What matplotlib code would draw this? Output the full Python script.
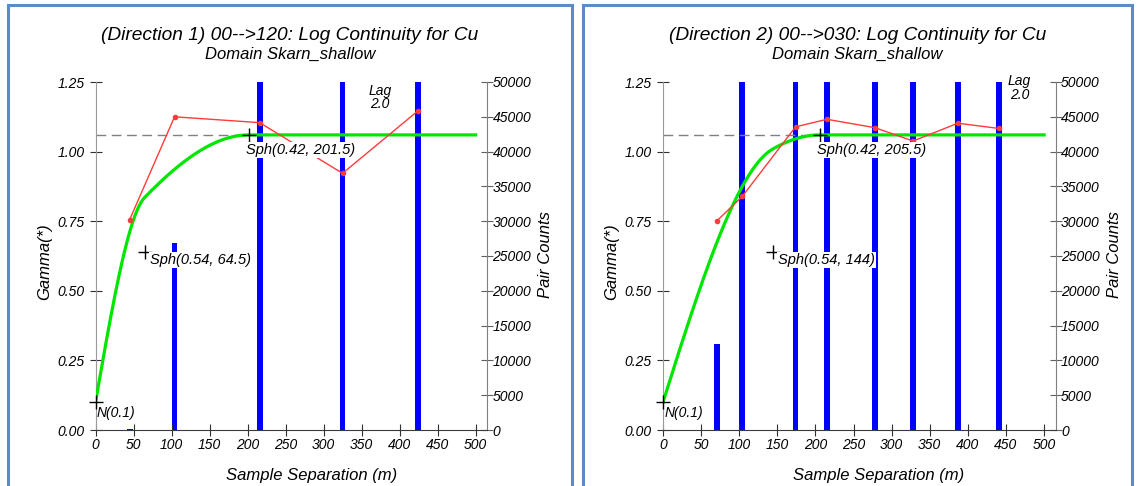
import matplotlib.pyplot as plt
from matplotlib.patches import Rectangle
import numpy as np

plt.rcParams['font.family'] = ['Liberation Sans', 'DejaVu Sans']
plt.rcParams['font.style'] = 'italic'

W, H = 1140, 486

# Direction 1 experimental variogram
d1_title = '(Direction 1) 00-->120: Log Continuity for Cu'
d1_lag = [45, 104, 216, 325, 424]
d1_gamma = [0.756, 1.125, 1.104, 0.922, 1.146]
d1_pairs = [150, 26800, 68000, 64000, 70000]
d1_nugget = 0.1
d1_sill = [0.54, 0.42]
d1_range = [64.5, 201.5]

# Direction 2 experimental variogram
d2_title = '(Direction 2) 00-->030: Log Continuity for Cu'
d2_lag = [71, 104, 174, 215, 278, 328, 387, 441]
d2_gamma = [0.752, 0.839, 1.089, 1.116, 1.086, 1.038, 1.102, 1.083]
d2_pairs = [12300, 66000, 70000, 72000, 68000, 65000, 69000, 67000]
d2_nugget = 0.1
d2_sill = [0.54, 0.42]
d2_range = [144, 205.5]

subtitle = 'Domain Skarn_shallow'
x_ticks = list(range(0, 501, 50))
gamma_ticks = [0.0, 0.25, 0.5, 0.75, 1.0, 1.25]
pair_ticks = list(range(0, 50001, 5000))


def px(x, y):
    return x / W, 1 - y / H


def sph(h, c, a):
    r = np.minimum(h / a, 1.0)
    return c * (1.5 * r - 0.5 * r ** 3)


fig = plt.figure(figsize=(W / 100, H / 100), dpi=100)


def panel(left, right, frame, title, lag, gamma, pairs, nugget, sills, ranges,
          lag_xy):
    x0, y0 = px(left, 430)
    x1, y1 = px(right, 82)
    ax = fig.add_axes([x0, y0, x1 - x0, y1 - y0])
    ax2 = ax.twinx()

    # pair counts on the right axis
    ax2.bar(lag, pairs, width=7.5, color='#0000ff', zorder=1)
    ax2.set_ylim(0, 50000)
    ax2.set_yticks(pair_ticks)

    # nested spherical model from the fitted parameters
    h = np.linspace(0, 500, 501)
    model = nugget + sph(h, sills[0], ranges[0]) + sph(h, sills[1], ranges[1])
    total = nugget + sum(sills)
    ax.plot([0, ranges[1]], [total, total], color='#808080', lw=1,
            ls=(0, (7, 4)), zorder=2)
    ax.plot(h, model, color='#00e600', lw=2.3, zorder=3)
    ax.plot(lag, gamma, color='#ff3b3b', lw=1, marker='o', ms=3, zorder=4)

    crosses_x = [0, ranges[0], ranges[1]]
    crosses_y = [nugget, nugget + sills[0], total]
    ax.plot(crosses_x, crosses_y, ls='none', marker='+', ms=10, mew=1,
            color='black', zorder=5, clip_on=False)
    box = dict(facecolor='white', edgecolor='none', pad=0.5)
    ax.text(2, nugget - 0.012, 'N(%g)' % nugget, fontsize=10, ha='left',
            va='top', zorder=6)
    ax.text(ranges[0] + 7, nugget + sills[0] - 0.03,
            'Sph(%g, %g)' % (sills[0], ranges[0]), fontsize=10.5,
            ha='left', va='center', bbox=box, zorder=6)
    ax.text(ranges[1] - 4, total - 0.055,
            'Sph(%g, %g)' % (sills[1], ranges[1]), fontsize=10.5,
            ha='left', va='center', bbox=box, zorder=6)
    ax.text(lag_xy[0], lag_xy[1], 'Lag\n2.0', fontsize=10, ha='center',
            va='center', linespacing=0.95, zorder=6)

    ax.set_zorder(ax2.get_zorder() + 1)
    ax.patch.set_visible(False)

    ax.set_xlim(0, 515)
    ax.set_ylim(0, 1.25)
    ax.set_xticks(x_ticks)
    ax.set_yticks(gamma_ticks)
    ax.set_yticklabels(['%.2f' % v for v in gamma_ticks])

    for s in ['top', 'right']:
        ax.spines[s].set_visible(False)
    for s in ['top', 'left', 'bottom']:
        ax2.spines[s].set_visible(False)
    ax.spines['left'].set_color('#9a9a9a')
    ax.spines['bottom'].set_color('#3a3a3a')
    ax2.spines['right'].set_color('#808080')
    ax.tick_params(axis='x', direction='inout', length=8, width=0.8,
                   color='#303030', labelsize=10, pad=2)
    ax.tick_params(axis='y', direction='inout', length=8, width=0.8,
                   color='#303030', labelsize=10, pad=4)
    ax2.tick_params(axis='y', direction='inout', length=8, width=0.8,
                    color='#606060', labelsize=10, pad=0)

    cx = (frame[0] + frame[1]) / 2
    fig.text(*px(cx, 35), title, fontsize=13.8, ha='center', va='center')
    fig.text(*px(cx, 54), subtitle, fontsize=12, ha='center', va='center')
    fig.text(*px(left + 216, 475), 'Sample Separation (m)', fontsize=12,
             ha='center', va='center')
    fig.text(*px(left - 51, 262), 'Gamma(*)', fontsize=12, rotation=90,
             ha='center', va='center')
    fig.text(*px(right + 59, 255), 'Pair Counts', fontsize=12, rotation=90,
             ha='center', va='center')

    # blue frame round each panel, open at the bottom of the picture
    fx, fy = px(frame[0], 5)
    fig.add_artist(Rectangle((fx, -0.1), (frame[1] - frame[0]) / W, fy + 0.1,
                             transform=fig.transFigure, fill=False,
                             lw=2.2, ec='#5b8bc8'))


panel(95.5, 487, (8, 572), d1_title, d1_lag, d1_gamma, d1_pairs, d1_nugget,
      d1_sill, d1_range, (374, 1.195))
panel(663, 1055.5, (583, 1132), d2_title, d2_lag, d2_gamma, d2_pairs,
      d2_nugget, d2_sill, d2_range, (468, 1.228))

fig.savefig('out.png', dpi=100)
